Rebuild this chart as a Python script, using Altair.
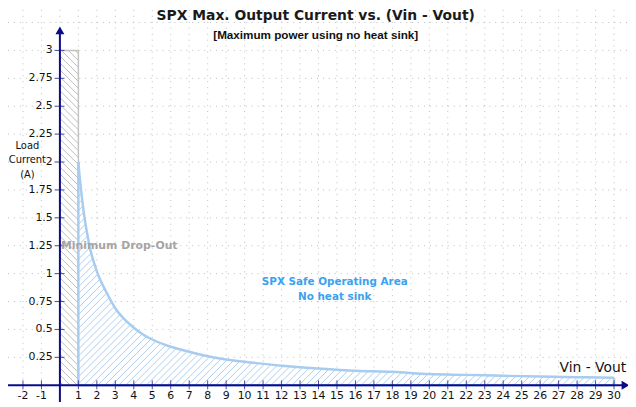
import altair as alt
import numpy as np
import pandas as pd

# ---- data ----
volt = [1, 1.05, 1.1, 1.2, 1.3, 1.4, 1.5, 1.6, 1.75, 1.9, 2, 2.25, 2.5, 2.75, 3, 3.5, 4, 4.5, 5, 6, 7, 8, 9, 10,
        12, 14, 16, 18, 20, 22, 24, 26, 28, 30]
amps = [2.0, 1.9, 1.82, 1.67, 1.54, 1.43, 1.34, 1.25, 1.15, 1.07, 1.02, 0.92, 0.84, 0.76, 0.69, 0.59, 0.515, 0.455, 0.41,
        0.345, 0.30, 0.26, 0.23, 0.21, 0.175, 0.15, 0.13, 0.12, 0.10, 0.093, 0.085, 0.078, 0.072, 0.068]
dropout_x = [0, 1]
dropout_top = 3
x_ticks = [-2, -1] + list(range(1, 31))
y_ticks = [0.25, 0.5, 0.75, 1, 1.25, 1.5, 1.75, 2, 2.25, 2.5, 2.75, 3]
x_grid = list(range(-2, 31))
y_grid = [0.25 * i for i in range(1, 14)]

W, H = 626, 396
XD = [-2.81, 30.756]
YD = [-0.151, 3.363]
sx = W / (XD[1] - XD[0])
sy = H / (YD[1] - YD[0])
k = sx / sy  # 45 degree slope in data units

xs = alt.Scale(domain=XD, nice=False, zero=False)
ys = alt.Scale(domain=YD, nice=False, zero=False)
NAVY = "#0b0b8a"
BLUE_LINE = "#a8ccef"
BLUE_HATCH = "#abcdef"
GREY_HATCH = "#bcbcbc"

# ---- derived tables ----
soa = pd.DataFrame({"x": volt, "y": amps})
edges = pd.DataFrame({
    "x": [volt[0], volt[-1], volt[0]],
    "x2": [volt[0], volt[-1], volt[-1]],
    "y": [0, 0, 0],
    "y2": [amps[0], amps[-1], 0],
})

def f(x):
    return np.interp(x, volt, amps)

step = 7 / sx

# blue "/" hatch under the curve
rows = []
x0 = 1 - amps[0] / k
while x0 < volt[-1]:
    xs0 = max(x0, 1.0)
    ys0 = k * (xs0 - x0)
    if ys0 < f(xs0):
        lo, hi = xs0, volt[-1]
        if k * (hi - x0) <= f(hi):
            xe = hi
        else:
            for _ in range(50):
                mid = (lo + hi) / 2
                if k * (mid - x0) < f(mid):
                    lo = mid
                else:
                    hi = mid
            xe = lo
        rows.append({"x": xs0, "y": ys0, "x2": xe, "y2": k * (xe - x0)})
    x0 += step
blue_hatch = pd.DataFrame(rows)

# grey "\" hatch in drop-out band
rows = []
x1 = dropout_x[0] + step / 2
while x1 < dropout_x[1] + dropout_top / k:
    xa = max(dropout_x[0], x1 - dropout_top / k)
    xb = min(dropout_x[1], x1)
    rows.append({"x": xa, "y": k * (x1 - xa), "x2": xb, "y2": k * (x1 - xb)})
    x1 += step
grey_hatch = pd.DataFrame(rows)

grid_v = pd.DataFrame({"x": x_grid})
grid_h = pd.DataFrame({"y": y_grid})
xt = pd.DataFrame({"x": x_ticks, "lab": [str(v) for v in x_ticks]})
yt = pd.DataFrame({"y": y_ticks, "lab": [f"{v:g}" for v in y_ticks]})

FONT = "DejaVu Sans"

gv = alt.Chart(grid_v).mark_rule(color="#bdbdbd", strokeDash=[1, 5], strokeWidth=1).encode(
    x=alt.X("x:Q", scale=xs, axis=None), y=alt.value(0), y2=alt.value(H))
gh = alt.Chart(grid_h).mark_rule(color="#bdbdbd", strokeDash=[1, 5], strokeWidth=1).encode(
    y=alt.Y("y:Q", scale=ys, axis=None), x=alt.value(0), x2=alt.value(W))

grey_bg = alt.Chart(pd.DataFrame({"x": [dropout_x[0]], "x2": [dropout_x[1]], "y": [0], "y2": [dropout_top]})).mark_rect(
    fill="white", stroke="#c3c3c3", strokeWidth=1.5).encode(
    x=alt.X("x:Q", scale=xs), x2="x2:Q", y=alt.Y("y:Q", scale=ys), y2="y2:Q")
grey_h = alt.Chart(grey_hatch).mark_rule(color=GREY_HATCH, strokeWidth=1).encode(
    x=alt.X("x:Q", scale=xs), y=alt.Y("y:Q", scale=ys), x2="x2:Q", y2="y2:Q")

blue_bg = alt.Chart(soa).mark_area(color="white").encode(
    x=alt.X("x:Q", scale=xs), y=alt.Y("y:Q", scale=ys))
blue_h = alt.Chart(blue_hatch).mark_rule(color=BLUE_HATCH, strokeWidth=1).encode(
    x=alt.X("x:Q", scale=xs), y=alt.Y("y:Q", scale=ys), x2="x2:Q", y2="y2:Q")
blue_curve = alt.Chart(soa).mark_line(color=BLUE_LINE, strokeWidth=2.5, interpolate="monotone").encode(
    x=alt.X("x:Q", scale=xs), y=alt.Y("y:Q", scale=ys))
blue_edges = alt.Chart(edges).mark_rule(color=BLUE_LINE, strokeWidth=2.5).encode(
    x=alt.X("x:Q", scale=xs), x2="x2:Q", y=alt.Y("y:Q", scale=ys), y2="y2:Q")

# axes
x_axis = alt.Chart(pd.DataFrame({"y": [0]})).mark_rule(color=NAVY, strokeWidth=2).encode(
    y=alt.Y("y:Q", scale=ys), x=alt.value(0), x2=alt.value(W - 3))
y_axis = alt.Chart(pd.DataFrame({"x": [0], "y": [YD[0]], "y2": [3.17]})).mark_rule(color=NAVY, strokeWidth=2).encode(
    x=alt.X("x:Q", scale=xs), y=alt.Y("y:Q", scale=ys), y2="y2:Q")
arrows = alt.Chart(pd.DataFrame({"x": [0, 30.62], "y": [3.18, 0], "s": ["triangle-up", "triangle-right"]})).mark_point(
    filled=True, color=NAVY, size=80, opacity=1).encode(
    x=alt.X("x:Q", scale=xs), y=alt.Y("y:Q", scale=ys),
    shape=alt.Shape("s:N", scale=alt.Scale(domain=["triangle-up", "triangle-right"], range=["triangle-up", "triangle-right"]), legend=None))

x_tk = alt.Chart(xt).mark_rule(color="#4b4ba0", strokeWidth=1).encode(
    x=alt.X("x:Q", scale=xs), y=alt.datum(0.044, scale=ys), y2=alt.datum(-0.036))
y_tk = alt.Chart(yt).mark_rule(color="#4b4ba0", strokeWidth=1).encode(
    y=alt.Y("y:Q", scale=ys), x=alt.datum(-0.29, scale=xs), x2=alt.datum(0.25))
x_lab = alt.Chart(xt).mark_text(font=FONT, fontSize=11, color="#111", baseline="middle").encode(
    x=alt.X("x:Q", scale=xs), y=alt.datum(-0.1, scale=ys), text="lab:N")
y_lab = alt.Chart(yt).mark_text(font=FONT, fontSize=11, color="#111", align="right", baseline="middle").encode(
    y=alt.Y("y:Q", scale=ys), x=alt.datum(-0.39, scale=xs), text="lab:N")

notes = pd.DataFrame([
    {"x": 13.85, "y": 3.305, "t": "SPX Max. Output Current vs. (Vin - Vout)", "g": "title"},
    {"x": 13.85, "y": 3.135, "t": "[Maximum power using no heat sink]", "g": "sub"},
])
title = alt.Chart(notes[notes.g == "title"]).mark_text(font=FONT, fontSize=14, fontWeight="bold", color="#1a1a1a").encode(
    x=alt.X("x:Q", scale=xs), y=alt.Y("y:Q", scale=ys), text="t:N")
sub = alt.Chart(notes[notes.g == "sub"]).mark_text(font="Liberation Sans", fontSize=11.8, fontWeight="bold", color="#111").encode(
    x=alt.X("x:Q", scale=xs), y=alt.Y("y:Q", scale=ys), text="t:N")

ylab = alt.Chart(pd.DataFrame({"x": [-1.76], "y": [2.147], "t": [["Load", "Current", "(A)"]]})).mark_text(
    font=FONT, fontSize=10, color="#111", lineHeight=15, baseline="middle").encode(
    x=alt.X("x:Q", scale=xs), y=alt.Y("y:Q", scale=ys), text="t")
xlab = alt.Chart(pd.DataFrame({"x": [30.66], "y": [0.15], "t": ["Vin - Vout"]})).mark_text(
    font=FONT, fontSize=14, color="#111", align="right", baseline="middle").encode(
    x=alt.X("x:Q", scale=xs), y=alt.Y("y:Q", scale=ys), text="t:N")
drop = alt.Chart(pd.DataFrame({"x": [0.06], "y": [1.25], "t": ["Minimum Drop-Out"]})).mark_text(
    font=FONT, fontSize=11, fontWeight="bold", color="#a5a5a5", align="left", baseline="middle").encode(
    x=alt.X("x:Q", scale=xs), y=alt.Y("y:Q", scale=ys), text="t:N")
soa_txt = alt.Chart(pd.DataFrame({"x": [14.88], "y": [0.923], "t": [["SPX Safe Operating Area", "No heat sink"]]})).mark_text(
    font=FONT, fontSize=10.5, fontWeight="bold", color="#3aa2f0", lineHeight=15, baseline="middle").encode(
    x=alt.X("x:Q", scale=xs), y=alt.Y("y:Q", scale=ys), text="t")

chart = alt.layer(
    gv, gh, grey_bg, grey_h, blue_bg, blue_h, blue_edges, blue_curve,
    y_tk, x_tk, x_axis, y_axis, arrows, x_lab, y_lab,
    title, sub, ylab, xlab, drop, soa_txt,
).properties(
    width=W, height=H, autosize=alt.AutoSizeParams(type="none"), padding=0, background="white"
).configure_view(stroke=None)

chart.save("out.html", embed_options={"renderer": "svg", "actions": False})
